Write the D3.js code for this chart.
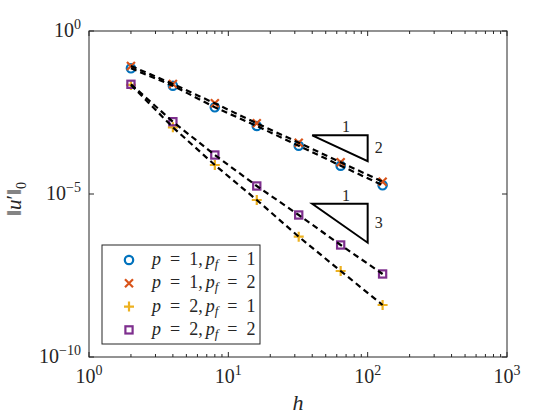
<!DOCTYPE html>
<html>
<head>
<meta charset="utf-8">
<script src="https://cdn.jsdelivr.net/npm/d3@7"></script>
<style>
body { margin: 0; background: #fff; }
text { font-family: "Liberation Serif", "DejaVu Serif", serif; fill: #262626; }
</style>
</head>
<body>
<svg id="chart"></svg>
<script>
'use strict';

// mesh sizes and error norms
var h_values = [2, 4, 8, 16, 32, 64, 128];
var err_p1_pf1 = [0.0718, 0.0210, 0.00457, 0.00122, 3.03e-4, 7.4e-5, 1.85e-5];
var err_p1_pf2 = [0.0844, 0.0237, 0.00605, 0.00148, 3.75e-4, 9.4e-5, 2.38e-5];
var err_p2_pf1 = [0.0221, 1.11e-3, 7.76e-5, 6.55e-6, 4.9e-7, 4.35e-8, 3.94e-9];
var err_p2_pf2 = [0.0232, 1.65e-3, 1.57e-4, 1.76e-5, 2.27e-6, 2.73e-7, 3.52e-8];

var series_p = [1, 1, 2, 2];
var series_pf = [1, 2, 1, 2];
var series_colors = ['#0072BD', '#D95319', '#EDB120', '#7E2F8E'];
var series_markers = ['circle', 'cross', 'plus', 'square'];

var x_tick_exps = [0, 1, 2, 3];
var y_tick_exps = [0, -5, -10];

// slope triangles: horizontal leg from h0 to h1 at height e0, drop by order
var tri_h0 = [40, 40];
var tri_h1 = [100, 100];
var tri_e0 = [Math.pow(10, -3.2), Math.pow(10, -5.3)];
var tri_order = [2, 3];

var all_errors = [err_p1_pf1, err_p1_pf2, err_p2_pf1, err_p2_pf2];

var width = 560, height = 420;
var plot_left = 89, plot_right = 507, plot_top = 31, plot_bottom = 357;

var svg = d3.select('#chart').attr('width', width).attr('height', height);

var x = d3.scaleLog().domain([1, 1000]).range([plot_left, plot_right]);
var y = d3.scaleLog().domain([1e-10, 1]).range([plot_bottom, plot_top]);

// minor ticks on x only
var x_minor = [];
x_tick_exps.slice(0, 3).forEach(function (e) {
    for (var k = 2; k <= 9; k++) x_minor.push(k * Math.pow(10, e));
});

var axis_g = svg.append('g');

// frame
axis_g.append('rect').attr('x', plot_left).attr('y', plot_top).attr('width', plot_right - plot_left).attr('height', plot_bottom - plot_top)
    .attr('fill', 'none').attr('stroke', '#262626').attr('stroke-width', 1);

// x ticks, bottom and top, pointing inward
x_tick_exps.forEach(function (e) {
    var px = x(Math.pow(10, e));
    axis_g.append('line').attr('x1', px).attr('x2', px).attr('y1', plot_bottom).attr('y2', plot_bottom - 5).attr('stroke', '#262626');
    axis_g.append('line').attr('x1', px).attr('x2', px).attr('y1', plot_top).attr('y2', plot_top + 5).attr('stroke', '#262626');
    var t = axis_g.append('text').attr('x', px).attr('y', 383).attr('text-anchor', 'middle').style('font-size', '20px');
    t.append('tspan').text('10');
    t.append('tspan').attr('dy', -8).style('font-size', '14px').text(e);
});
x_minor.forEach(function (v) {
    var px = x(v);
    axis_g.append('line').attr('x1', px).attr('x2', px).attr('y1', plot_bottom).attr('y2', plot_bottom - 3).attr('stroke', '#262626');
    axis_g.append('line').attr('x1', px).attr('x2', px).attr('y1', plot_top).attr('y2', plot_top + 3).attr('stroke', '#262626');
});

// y ticks, left and right
y_tick_exps.forEach(function (e) {
    var py = y(Math.pow(10, e));
    axis_g.append('line').attr('x1', plot_left).attr('x2', plot_left + 5).attr('y1', py).attr('y2', py).attr('stroke', '#262626');
    axis_g.append('line').attr('x1', plot_right).attr('x2', plot_right - 5).attr('y1', py).attr('y2', py).attr('stroke', '#262626');
    var t = axis_g.append('text').attr('x', 81).attr('y', py + 6).attr('text-anchor', 'end').style('font-size', '20px');
    t.append('tspan').text('10');
    t.append('tspan').attr('dy', -8).style('font-size', '14px').text(e < 0 ? '\u2212' + (-e) : e);
});

// axis labels
svg.append('text').attr('x', 298).attr('y', 410).attr('text-anchor', 'middle').style('font-size', '22px')
    .style('font-style', 'italic').text('h');

var yl = svg.append('text').attr('transform', 'translate(21,199) rotate(-90)').attr('text-anchor', 'middle').style('font-size', '21px');
yl.append('tspan').text('\u2016');
yl.append('tspan').style('font-style', 'italic').text('u');
yl.append('tspan').text('\u2032\u2016');
yl.append('tspan').attr('dy', 5).style('font-size', '14px').text('0');

// markers
function drawMarker(g, type, color, px, py) {
    if (type === 'circle') {
        g.append('circle').attr('cx', px).attr('cy', py).attr('r', 4.2).attr('fill', 'none').attr('stroke', color).attr('stroke-width', 2.2);
    } else if (type === 'square') {
        g.append('rect').attr('x', px - 3.6).attr('y', py - 3.6).attr('width', 7.2).attr('height', 7.2)
            .attr('fill', 'none').attr('stroke', color).attr('stroke-width', 2.2);
    } else if (type === 'cross') {
        g.append('path').attr('d', 'M' + (px - 4) + ',' + (py - 4) + 'L' + (px + 4) + ',' + (py + 4) +
            'M' + (px - 4) + ',' + (py + 4) + 'L' + (px + 4) + ',' + (py - 4)).attr('stroke', color).attr('stroke-width', 2.2);
    } else {
        g.append('path').attr('d', 'M' + (px - 5) + ',' + py + 'L' + (px + 5) + ',' + py +
            'M' + px + ',' + (py - 5) + 'L' + px + ',' + (py + 5)).attr('stroke', color).attr('stroke-width', 2.2);
    }
}

var mark_g = svg.append('g');
all_errors.forEach(function (errs, i) {
    errs.forEach(function (v, j) {
        drawMarker(mark_g, series_markers[i], series_colors[i], x(h_values[j]), y(v));
    });
});

// dashed black lines through each series
var line = d3.line().x(function (d) { return x(d[0]); }).y(function (d) { return y(d[1]); });
all_errors.forEach(function (errs) {
    svg.append('path').datum(d3.zip(h_values, errs)).attr('d', line)
        .attr('fill', 'none').attr('stroke', '#000').attr('stroke-width', 2.2).attr('stroke-dasharray', '6,4');
});

// slope triangles
tri_order.forEach(function (ord, i) {
    var e1 = tri_e0[i] * Math.pow(tri_h0[i] / tri_h1[i], ord);
    var pts = [[tri_h0[i], tri_e0[i]], [tri_h1[i], tri_e0[i]], [tri_h1[i], e1]];
    svg.append('path').attr('d', line(pts) + 'Z').attr('fill', 'none').attr('stroke', '#000').attr('stroke-width', 2);
    var xm = (x(tri_h0[i]) + x(tri_h1[i])) / 2 + 6;
    svg.append('text').attr('x', xm).attr('y', y(tri_e0[i]) - 3).attr('text-anchor', 'middle').style('font-size', '16px').text('1');
    svg.append('text').attr('x', x(tri_h1[i]) + 11).attr('y', (y(tri_e0[i]) + y(e1)) / 2 + 5)
        .attr('text-anchor', 'middle').style('font-size', '16px').text(ord);
});

// legend
var leg = svg.append('g');
leg.append('rect').attr('x', 102).attr('y', 245).attr('width', 158).attr('height', 99)
    .attr('fill', '#fff').attr('stroke', '#262626').attr('stroke-width', 1);
var eq = '\u2002=\u2002';
series_p.forEach(function (p, i) {
    var ly = 260 + i * 23.3;
    drawMarker(leg, series_markers[i], series_colors[i], 129, ly);
    var t = leg.append('text').attr('x', 152).attr('y', ly + 5).style('font-size', '18px');
    t.append('tspan').style('font-style', 'italic').text('p');
    t.append('tspan').text(eq + p + ',\u2006');
    t.append('tspan').style('font-style', 'italic').text('p');
    t.append('tspan').attr('dy', 3).style('font-style', 'italic').style('font-size', '13px').text('f');
    t.append('tspan').attr('dy', -3).text(eq + series_pf[i]);
});
</script>
</body>
</html>
